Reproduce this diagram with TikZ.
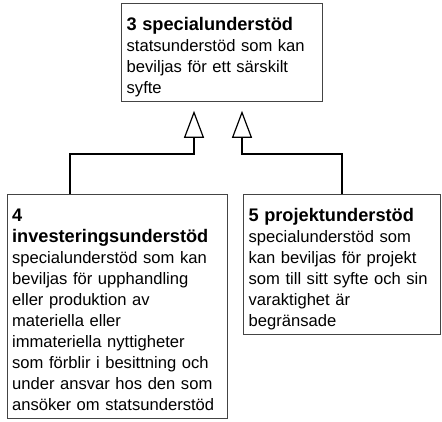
\documentclass[tikz,border=0pt]{standalone}
\usepackage{fontspec}
\setmainfont{Liberation Sans}
\usetikzlibrary{arrows.meta}
\usetikzlibrary{calc}
\usetikzlibrary{positioning}
\definecolor{boxline}{HTML}{444444}
\newcommand{\hd}[1]{\rule{0pt}{26.5pt}{\fontsize{18.2}{21}\selectfont\bfseries #1}}
\newcommand{\ft}{\rule[-8.5pt]{0pt}{8.5pt}}

\begin{document}
\begin{tikzpicture}[x=1pt,y=-1pt,
    box/.style={draw=boxline,line width=1.3pt,anchor=north west,align=left,
      inner xsep=5pt,inner ysep=0pt,font=\fontsize{16.6}{21}\selectfont},
    gen/.style={line width=1.2pt,shorten >=8.5pt,
      -{Triangle[length=27pt,width=20pt,fill=white]}}]
    \useasboundingbox (0,0) rectangle (442,421);
    \node[box,text width=191pt] (spec) at (121,3)
      {\hd{3 specialunderstöd}\\statsunderstöd som kan\\beviljas för ett särskilt\\syfte\ft};
    \node[box,text width=210.5pt] (inv) at (6.5,194)
      {\hd{4}\\{\fontsize{18.2}{21}\selectfont\bfseries investeringsunderstöd}\\
       specialunderstöd som kan\\beviljas för upphandling\\eller produktion av\\
       materiella eller\\immateriella nyttigheter\\som förblir i besittning och\\
       under ansvar hos den som\\ansöker om statsunderstöd\ft};
    \node[box,text width=186.5pt] (proj) at (243,194)
      {\hd{5 projektunderstöd}\\specialunderstöd som\\kan beviljas för projekt\\
       som till sitt syfte och sin\\varaktighet är\\begränsade\ft};
    \coordinate (d4) at (70,154);
    \coordinate (k4) at (194,154);
    \coordinate (d5) at (342,154);
    \coordinate (k5) at (242,154);
    \draw[gen] (inv.north -| d4) -- (d4) -- (k4) -- (k4 |- spec.south);
    \draw[gen] (proj.north -| d5) -- (d5) -- (k5) -- (k5 |- spec.south);
\end{tikzpicture}
\end{document}
